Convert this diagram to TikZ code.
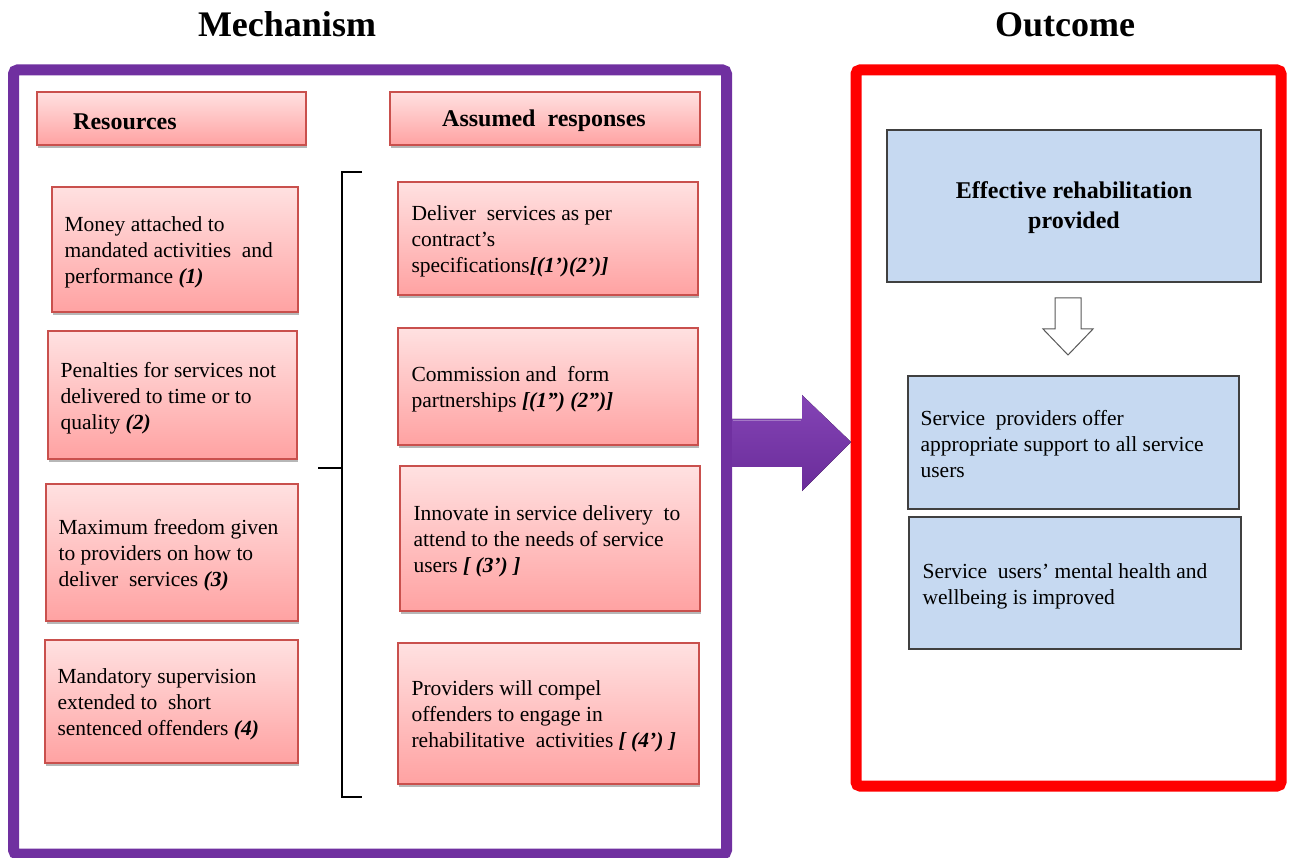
\documentclass[tikz,border=0pt]{standalone}
\usepackage{fontspec}
\setmainfont{Liberation Serif}
\usetikzlibrary{shadows}

\definecolor{pinktop}{HTML}{FFE1E1}
\definecolor{pinkbot}{HTML}{FFA2A2}
\definecolor{pinkedge}{HTML}{C9504D}
\definecolor{mechpurple}{HTML}{7030A0}
\definecolor{arrowtop}{HTML}{8444B6}
\definecolor{arrowbot}{HTML}{6A2C99}
\definecolor{bluefill}{HTML}{C6D9F1}
\definecolor{blueedge}{HTML}{404040}

\newcommand{\bodyfont}{\fontsize{21.5}{26}\selectfont}
\newcommand{\bi}[1]{\textbf{\textit{#1}}}

\tikzset{
  frame/.style={draw=#1, line width=11pt, rounded corners=4pt, fill=white},
  pinkbox/.style={draw=pinkedge, line width=1.3pt, top color=pinktop, bottom color=pinkbot,
    drop shadow={shadow xshift=1pt, shadow yshift=-3pt, fill=black!40, opacity=.7},
    inner sep=0pt},
  bluebox/.style={draw=blueedge, line width=1.2pt, fill=bluefill, inner sep=0pt},
  bodytext/.style={font=\bodyfont, align=left, inner sep=0pt, anchor=west, yshift=-3pt},
  headtext/.style={font=\fontsize{24}{30}\selectfont\bfseries, inner sep=0pt},
  titletext/.style={font=\fontsize{36}{40}\selectfont\bfseries, inner sep=0pt, anchor=base},
  bracket/.style={draw=black, line width=1.5pt},
}

\begin{document}
\begin{tikzpicture}[x=1pt, y=-1pt]
\useasboundingbox[fill=white] (0,0) rectangle (1291,858);

% column titles
\node[titletext] (tmech) at (287,37) {Mechanism};
\node[titletext] (tout) at (1065,37) {Outcome};

% outer frames
\node[frame=mechpurple, minimum width=713pt, minimum height=784pt] (mech) at (370,462) {};
\node[frame=red, minimum width=425pt, minimum height=716pt] (out) at (1068.5,428) {};

% headers
\node[pinkbox, minimum width=269pt, minimum height=53pt] (hres) at (171.5,118.5) {};
\node[headtext, anchor=west] (hrest) at (73,122) {Resources};
\node[pinkbox, minimum width=310pt, minimum height=53pt] (hresp) at (545,118.5) {};
\node[headtext] (hrespt) at (544,121) {Assumed\ \ responses};

% resources
\node[pinkbox, minimum width=246pt, minimum height=125pt] (r1) at (175,249.5) {};
\node[bodytext] (r1t) at ([xshift=13pt]r1.west) {Money attached to\\mandated activities\ \ and\\performance \bi{(1)}};
\node[pinkbox, minimum width=249pt, minimum height=128pt] (r2) at (172.5,395) {};
\node[bodytext] (r2t) at ([xshift=13pt]r2.west) {Penalties for services not\\delivered to time or to\\quality \bi{(2)}};
\node[pinkbox, minimum width=252pt, minimum height=137pt] (r3) at (172,552.5) {};
\node[bodytext] (r3t) at ([xshift=13pt]r3.west) {Maximum freedom given\\to providers on how to\\deliver\ \ services \bi{(3)}};
\node[pinkbox, minimum width=253pt, minimum height=123pt] (r4) at (171.5,701.5) {};
\node[bodytext] (r4t) at ([xshift=13pt]r4.west) {Mandatory supervision\\extended to\ \ short\\sentenced offenders \bi{(4)}};

% assumed responses
\node[pinkbox, minimum width=300pt, minimum height=113pt] (p1) at (548,238.5) {};
\node[bodytext] (p1t) at ([xshift=14pt]p1.west) {Deliver\ \ services as per\\contract’s\\specifications\bi{[(1’)(2’)]}};
\node[pinkbox, minimum width=300pt, minimum height=117pt] (p2) at (548,386.5) {};
\node[bodytext] (p2t) at ([xshift=14pt]p2.west) {Commission and\ \ form\\partnerships \bi{[(1”) (2”)]}};
\node[pinkbox, minimum width=300pt, minimum height=145pt] (p3) at (550,538.5) {};
\node[bodytext] (p3t) at ([xshift=14pt]p3.west) {Innovate in service delivery\ \ to\\attend to the needs of service\\users \bi{[ (3’) ]}};
\node[pinkbox, minimum width=301pt, minimum height=141pt] (p4) at (548.5,713.5) {};
\node[bodytext] (p4t) at ([xshift=14pt]p4.west) {Providers will compel\\offenders to engage in\\rehabilitative\ \ activities \bi{[ (4’) ]}};

% bracket joining the two columns
\coordinate (bt) at (362,172);
\coordinate (bb) at (362,797);
\coordinate (bm) at (318,468);
\draw[bracket] (bt) -- (342,172) -- (342,797) -- (bb);
\draw[bracket] (bm) -- (342,468);

% block arrow from mechanism to outcome
\fill[top color=arrowtop, bottom color=arrowbot]
  (732,419) -- (802,419) -- (802,395) -- (851,442) -- (802,491) -- (802,467) -- (732,467) -- cycle;
\draw[white, opacity=.3, line width=1.5pt] (733,420.5) -- (801,420.5);

% outcome boxes
\node[bluebox, minimum width=374pt, minimum height=152pt] (b1) at (1074,206) {};
\node[headtext, align=center] (b1t) at ([yshift=-2pt]b1.center) {Effective rehabilitation\\provided};
\node[bluebox, minimum width=331pt, minimum height=133pt] (b2) at (1073.5,442.5) {};
\node[bodytext, yshift=1.5pt] (b2t) at ([xshift=13pt]b2.west) {Service\ \ providers offer\\appropriate support to all service\\users};
\node[bluebox, minimum width=332pt, minimum height=132pt] (b3) at (1075,583) {};
\node[bodytext] (b3t) at ([xshift=14pt]b3.west) {Service\ \ users’ mental health and\\wellbeing is improved};

% hollow arrow between outcome boxes
\draw[draw=black!65, fill=white, line width=1pt, line join=miter]
  (1055,298) -- (1081,298) -- (1081,329) -- (1093,329) -- (1068,355) -- (1043,329) -- (1055,329) -- cycle;
\end{tikzpicture}
\end{document}
